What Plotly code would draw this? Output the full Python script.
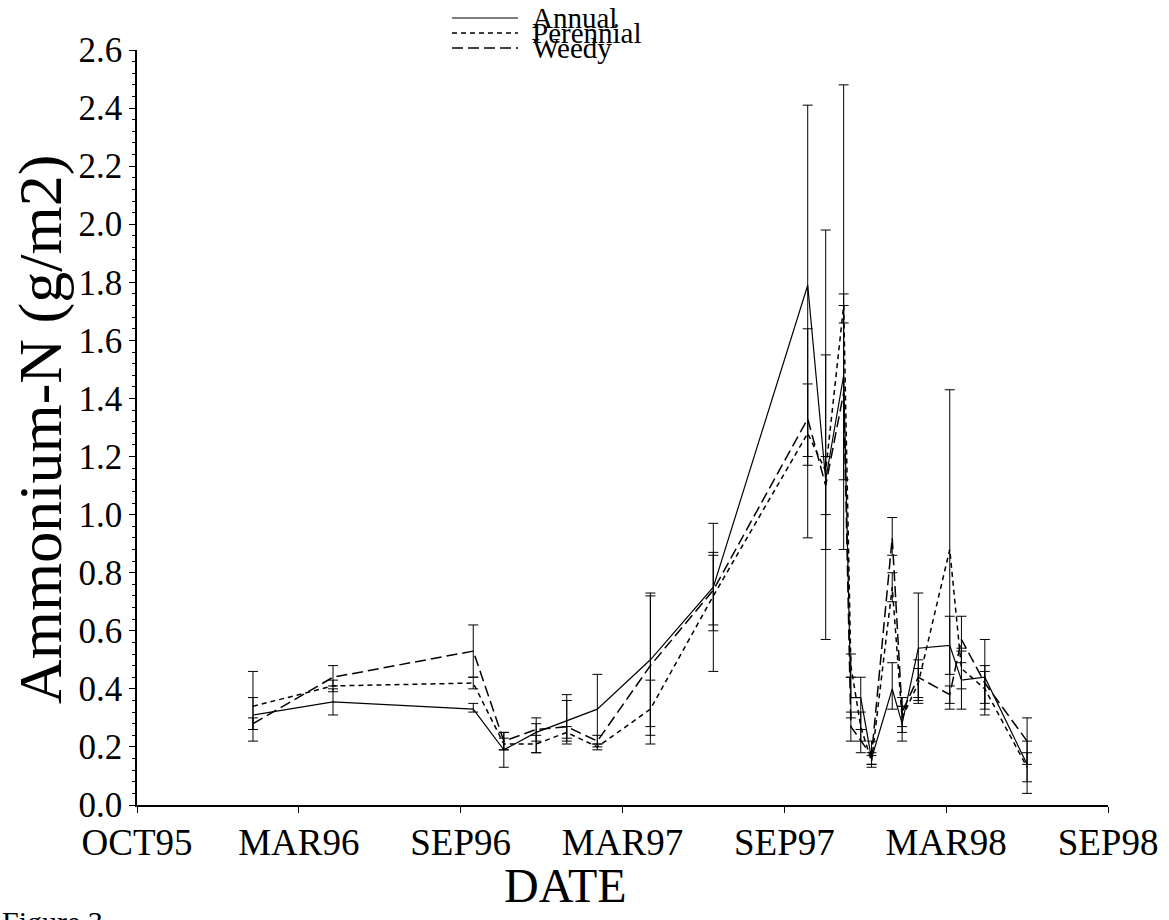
import plotly.graph_objects as go

# ---------------- data ----------------
dates = ["1996-02-07", "1996-05-06", "1996-10-09", "1996-11-12", "1996-12-18",
         "1997-01-21", "1997-02-24", "1997-04-24", "1997-07-03", "1997-10-16",
         "1997-11-05", "1997-11-25", "1997-12-03", "1997-12-14", "1997-12-26",
         "1998-01-18", "1998-01-29", "1998-02-16", "1998-03-23", "1998-04-05",
         "1998-05-01", "1998-06-17"]

annual = [0.31, 0.355, 0.33, 0.19, 0.25, 0.29, 0.33, 0.50, 0.75, 1.79, 1.12,
          1.48, 0.37, 0.37, 0.16, 0.40, 0.28, 0.54, 0.55, 0.43, 0.44, 0.14]
annual_lo = [0.26, 0.31, 0.32, 0.13, 0.22, 0.21, 0.21, 0.27, 0.62, 1.17, 0.57,
             0.88, 0.30, 0.26, 0.14, 0.33, 0.22, 0.35, 0.45, 0.33, 0.31, 0.04]
annual_hi = [0.37, 0.40, 0.35, 0.25, 0.28, 0.38, 0.45, 0.73, 0.87, 2.41, 1.98,
             2.48, 0.44, 0.44, 0.18, 0.49, 0.34, 0.73, 0.65, 0.53, 0.57, 0.22]

perennial = [0.34, 0.41, 0.42, 0.21, 0.21, 0.25, 0.20, 0.33, 0.72, 1.28, 1.15,
             1.72, 0.48, 0.27, 0.15, 0.75, 0.30, 0.42, 0.88, 0.47, 0.40, 0.13]
perennial_lo = [0.22, 0.39, 0.40, 0.19, 0.18, 0.23, 0.19, 0.21, 0.46, 0.92, 0.88,
                1.66, 0.44, 0.22, 0.13, 0.70, 0.25, 0.37, 0.33, 0.40, 0.35, 0.08]
perennial_hi = [0.46, 0.43, 0.44, 0.23, 0.24, 0.27, 0.21, 0.43, 0.97, 1.64, 1.55,
                1.76, 0.52, 0.32, 0.17, 0.80, 0.34, 0.47, 1.43, 0.54, 0.46, 0.18]

weedy = [0.28, 0.44, 0.53, 0.22, 0.26, 0.27, 0.22, 0.48, 0.74, 1.33, 1.10,
         1.42, 0.27, 0.22, 0.17, 0.92, 0.32, 0.44, 0.38, 0.57, 0.42, 0.22]
weedy_lo = [0.26, 0.41, 0.44, 0.19, 0.18, 0.22, 0.20, 0.24, 0.60, 1.20, 1.00,
            1.12, 0.22, 0.18, 0.14, 0.86, 0.27, 0.36, 0.35, 0.49, 0.33, 0.14]
weedy_hi = [0.30, 0.48, 0.62, 0.25, 0.30, 0.36, 0.24, 0.72, 0.86, 1.45, 1.20,
            1.72, 0.32, 0.26, 0.22, 0.99, 0.37, 0.50, 0.41, 0.65, 0.48, 0.30]

tick_dates = ["1995-10-01", "1996-03-29", "1996-09-25", "1997-03-24",
              "1997-09-20", "1998-03-19", "1998-09-15"]
tick_labels = ["OCT95", "MAR96", "SEP96", "MAR97", "SEP97", "MAR98", "SEP98"]

y_ticks = [0.0, 0.2, 0.4, 0.6, 0.8, 1.0, 1.2, 1.4, 1.6, 1.8, 2.0, 2.2, 2.4, 2.6]

series_names = ["Annual", "Perennial", "Weedy"]
# -------------------------------------------------------------

FONT = "Liberation Serif"
styles = {"Annual": dict(dash="solid", width=1.2),
          "Perennial": dict(dash="5px,4px", width=1.5),
          "Weedy": dict(dash="11px,5px", width=1.5)}

fig = go.Figure()
for name, y, lo, hi in [("Annual", annual, annual_lo, annual_hi),
                        ("Perennial", perennial, perennial_lo, perennial_hi),
                        ("Weedy", weedy, weedy_lo, weedy_hi)]:
    fig.add_trace(go.Scatter(
        x=dates, y=y, mode="lines", name=name, showlegend=False,
        line=dict(color="black", **styles[name]),
        error_y=dict(type="data", symmetric=False,
                     array=[h - v for h, v in zip(hi, y)],
                     arrayminus=[v - l for v, l in zip(y, lo)],
                     color="black", thickness=1, width=5),
    ))

L, R, T, B = 137, 1108, 50, 805
W, H = 1169, 920
pw, ph = R - L, B - T

def px(xp):
    return (xp - L) / pw

def py(yp):
    return (B - yp) / ph

# compact legend (rows sit tightly together, like the original)
leg_rows = [18, 33, 48]
for name, yy in zip(series_names, leg_rows):
    fig.add_shape(type="line", xref="paper", yref="paper",
                  x0=px(452), x1=px(518), y0=py(yy), y1=py(yy),
                  line=dict(color="black", **styles[name]))
    fig.add_annotation(text=name, xref="paper", yref="paper",
                       x=px(530), y=py(yy), xanchor="left", yanchor="middle",
                       showarrow=False, font=dict(family=FONT, size=29, color="black"))

fig.add_annotation(text="Ammonium-N (g/m2)", xref="paper", yref="paper",
                   x=px(40), y=py(430), textangle=-90, xanchor="center", yanchor="middle",
                   showarrow=False, font=dict(family=FONT, size=62, color="black"))
fig.add_annotation(text="DATE", xref="paper", yref="paper",
                   x=px(565), y=py(885), xanchor="center", yanchor="middle",
                   showarrow=False, font=dict(family=FONT, size=48, color="black"))
fig.add_annotation(text="Figure 3.", xref="paper", yref="paper",
                   x=px(0), y=py(903), xanchor="left", yanchor="top",
                   showarrow=False, font=dict(family=FONT, size=30, color="black"))

fig.update_layout(
    width=W, height=H,
    margin=dict(l=L, r=W - R, t=T, b=H - B, pad=0),
    paper_bgcolor="white", plot_bgcolor="white",
    font=dict(family=FONT, color="black"),
    xaxis=dict(type="date", range=[tick_dates[0], tick_dates[-1]],
               tickvals=tick_dates, ticktext=tick_labels,
               showline=True, linecolor="black", linewidth=1.5, mirror=False,
               ticks="outside", ticklen=6, tickcolor="black",
               ticklabelstandoff=-2,
               showgrid=False, zeroline=False,
               tickfont=dict(family=FONT, size=37, color="black")),
    yaxis=dict(range=[0, 2.6], tickvals=y_ticks,
               ticktext=[f"{v:.1f}" for v in y_ticks],
               showline=True, linecolor="black", linewidth=1.5,
               ticks="outside", ticklen=6, tickcolor="black",
               minor=dict(ticks="outside", ticklen=3, dtick=0.04, tickcolor="black"),
               showgrid=False, zeroline=False,
               tickfont=dict(family=FONT, size=35, color="black")),
)

fig.write_html("out.html")
